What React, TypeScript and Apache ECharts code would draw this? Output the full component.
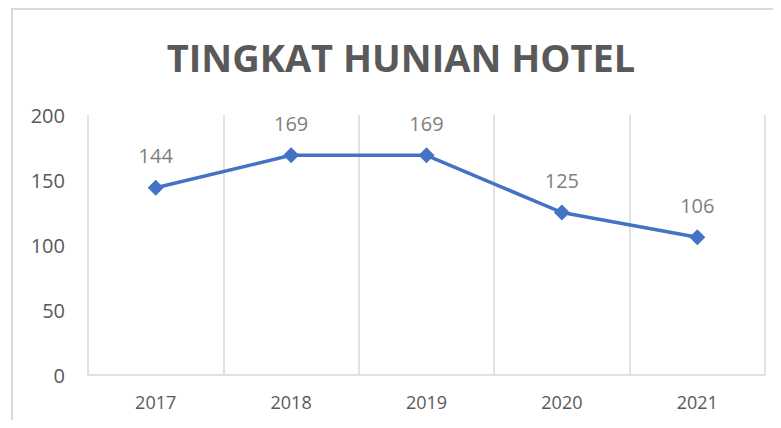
import React, { useEffect, useRef } from "react";
import * as echarts from "echarts";

const TITLE = "TINGKAT HUNIAN HOTEL";
const YEARS = ["2017", "2018", "2019", "2020", "2021"];
const OCCUPANCY = [144, 169, 169, 125, 106];
const Y_MIN = 0;
const Y_MAX = 200;
const Y_STEP = 50;

export default function App() {
  const ref = useRef<HTMLDivElement>(null);
  useEffect(() => {
    if (!ref.current) return;
    const chart = echarts.init(ref.current, null, { renderer: "svg" });
    chart.setOption({
      animation: false,
      backgroundColor: "#ffffff",
      graphic: [
        {
          type: "rect",
          shape: { x: 12, y: 9, width: 820, height: 460 },
          style: { fill: "none", stroke: "#d9d9d9", lineWidth: 2 },
          silent: true,
          z: -1,
        },
        {
          type: "text",
          x: 401,
          y: 57,
          style: {
            text: TITLE,
            align: "center",
            verticalAlign: "middle",
            fontFamily: "Open Sans",
            fontWeight: "bold",
            fontSize: 38,
            fill: "#595959",
          },
        },
      ],
      grid: { left: 88, right: 16, top: 115, bottom: 53 },
      xAxis: {
        type: "category",
        data: YEARS,
        boundaryGap: true,
        axisLine: { show: true, lineStyle: { color: "#d9d9d9", width: 1.5 } },
        axisTick: { show: false },
        axisLabel: {
          color: "#595959",
          fontFamily: "Open Sans",
          fontSize: 18,
          margin: 18,
        },
        splitLine: { show: true, lineStyle: { color: "#d9d9d9", width: 1.5 } },
      },
      yAxis: {
        type: "value",
        min: Y_MIN,
        max: Y_MAX,
        interval: Y_STEP,
        axisLine: { show: false },
        axisTick: { show: false },
        splitLine: { show: false },
        axisLabel: {
          color: "#595959",
          fontFamily: "Open Sans",
          fontSize: 20,
          margin: 23,
        },
      },
      series: [
        {
          type: "line",
          data: OCCUPANCY,
          lineStyle: { color: "#4472c4", width: 3.5 },
          itemStyle: { color: "#4472c4" },
          symbol: "diamond",
          symbolSize: 16,
          label: {
            show: true,
            position: "top",
            distance: 14,
            color: "#7f7f7f",
            fontFamily: "Open Sans",
            fontSize: 20,
          },
        },
      ],
    });
    return () => chart.dispose();
  }, []);
  return <div ref={ref} style={{ width: 781, height: 428, margin: -8 }} />;
}
